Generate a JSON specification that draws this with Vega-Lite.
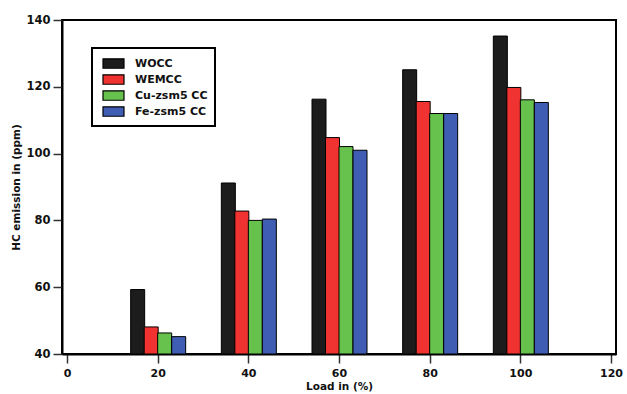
{
  "$schema": "https://vega.github.io/schema/vega-lite/v6.json",
  "autosize": "none",
  "width": 554,
  "height": 334,
  "padding": {"left": 62, "top": 20, "right": 11, "bottom": 40},
  "background": "white",
  "config": {
    "font": "DejaVu Sans",
    "view": {"stroke": "black", "strokeWidth": 2},
    "axis": {
      "labelFont": "DejaVu Sans",
      "labelFontWeight": "bold",
      "labelFontSize": 11.5,
      "labelColor": "#111",
      "titleFont": "DejaVu Sans",
      "titleFontWeight": "bold",
      "titleFontSize": 10.5,
      "titleColor": "#111",
      "domainColor": "black",
      "domainWidth": 2,
      "tickColor": "#333",
      "tickWidth": 1.5,
      "tickSize": 9,
      "grid": false
    }
  },
  "data": {
    "values": [
      {"load": 20, "series": "WOCC", "hc": 59.3},
      {"load": 20, "series": "WEMCC", "hc": 48.1},
      {"load": 20, "series": "Cu-zsm5 CC", "hc": 46.3},
      {"load": 20, "series": "Fe-zsm5 CC", "hc": 45.2},
      {"load": 40, "series": "WOCC", "hc": 91.2},
      {"load": 40, "series": "WEMCC", "hc": 82.8},
      {"load": 40, "series": "Cu-zsm5 CC", "hc": 80.0},
      {"load": 40, "series": "Fe-zsm5 CC", "hc": 80.4},
      {"load": 60, "series": "WOCC", "hc": 116.3},
      {"load": 60, "series": "WEMCC", "hc": 104.8},
      {"load": 60, "series": "Cu-zsm5 CC", "hc": 102.1},
      {"load": 60, "series": "Fe-zsm5 CC", "hc": 101.0},
      {"load": 80, "series": "WOCC", "hc": 125.1},
      {"load": 80, "series": "WEMCC", "hc": 115.6},
      {"load": 80, "series": "Cu-zsm5 CC", "hc": 112.0},
      {"load": 80, "series": "Fe-zsm5 CC", "hc": 112.0},
      {"load": 100, "series": "WOCC", "hc": 135.2},
      {"load": 100, "series": "WEMCC", "hc": 119.8},
      {"load": 100, "series": "Cu-zsm5 CC", "hc": 116.1},
      {"load": 100, "series": "Fe-zsm5 CC", "hc": 115.3}
    ]
  },
  "encoding": {
    "x": {
      "field": "load", "type": "quantitative",
      "scale": {"domain": [0, 120], "nice": false, "zero": false},
      "axis": {"values": [0, 20, 40, 60, 80, 100, 120], "title": "Load in (%)", "titlePadding": 3, "labelPadding": 4, "labelFontSize": 11}
    },
    "y": {
      "field": "hc", "type": "quantitative",
      "scale": {"domain": [40, 140], "nice": false, "zero": false},
      "axis": {"values": [40, 60, 80, 100, 120, 140], "title": "HC emission in (ppm)", "titlePadding": 4, "labelPadding": 3}
    },
    "y2": {"datum": 40},
    "color": {
      "field": "series", "type": "nominal",
      "sort": ["WOCC", "WEMCC", "Cu-zsm5 CC", "Fe-zsm5 CC"],
      "scale": {"domain": ["WOCC", "WEMCC", "Cu-zsm5 CC", "Fe-zsm5 CC"], "range": ["#1c1c1c", "#f03330", "#66c24d", "#3f5db3"]},
      "legend": {
        "title": null,
        "orient": "none",
        "legendX": 30,
        "legendY": 28,
        "direction": "vertical",
        "strokeColor": "black",
        "fillColor": "white",
        "padding": 7,
        "symbolType": "M-0.6,-0.63H2.2V0.63H-0.6Z",
        "symbolSize": 225,
        "symbolStrokeColor": "black",
        "symbolStrokeWidth": 1.2,
        "symbolOpacity": 1,
        "labelFont": "DejaVu Sans",
        "labelFontWeight": "bold",
        "labelFontSize": 11,
        "labelColor": "#111",
        "labelOffset": 19,
        "rowPadding": -1,
        "encode": {"legend": {"update": {"strokeWidth": {"value": 2}}}}
      }
    }
  },
  "layer": [
    {
      "transform": [{"filter": "datum.series === 'WOCC'"}],
      "mark": {"type": "bar", "width": 14, "xOffset": -20, "stroke": "black", "strokeWidth": 1, "opacity": 1}
    },
    {
      "transform": [{"filter": "datum.series === 'WEMCC'"}],
      "mark": {"type": "bar", "width": 14, "xOffset": -6.5, "stroke": "black", "strokeWidth": 1, "opacity": 1}
    },
    {
      "transform": [{"filter": "datum.series === 'Cu-zsm5 CC'"}],
      "mark": {"type": "bar", "width": 14, "xOffset": 7, "stroke": "black", "strokeWidth": 1, "opacity": 1}
    },
    {
      "transform": [{"filter": "datum.series === 'Fe-zsm5 CC'"}],
      "mark": {"type": "bar", "width": 14, "xOffset": 21, "stroke": "black", "strokeWidth": 1, "opacity": 1}
    }
  ]
}
